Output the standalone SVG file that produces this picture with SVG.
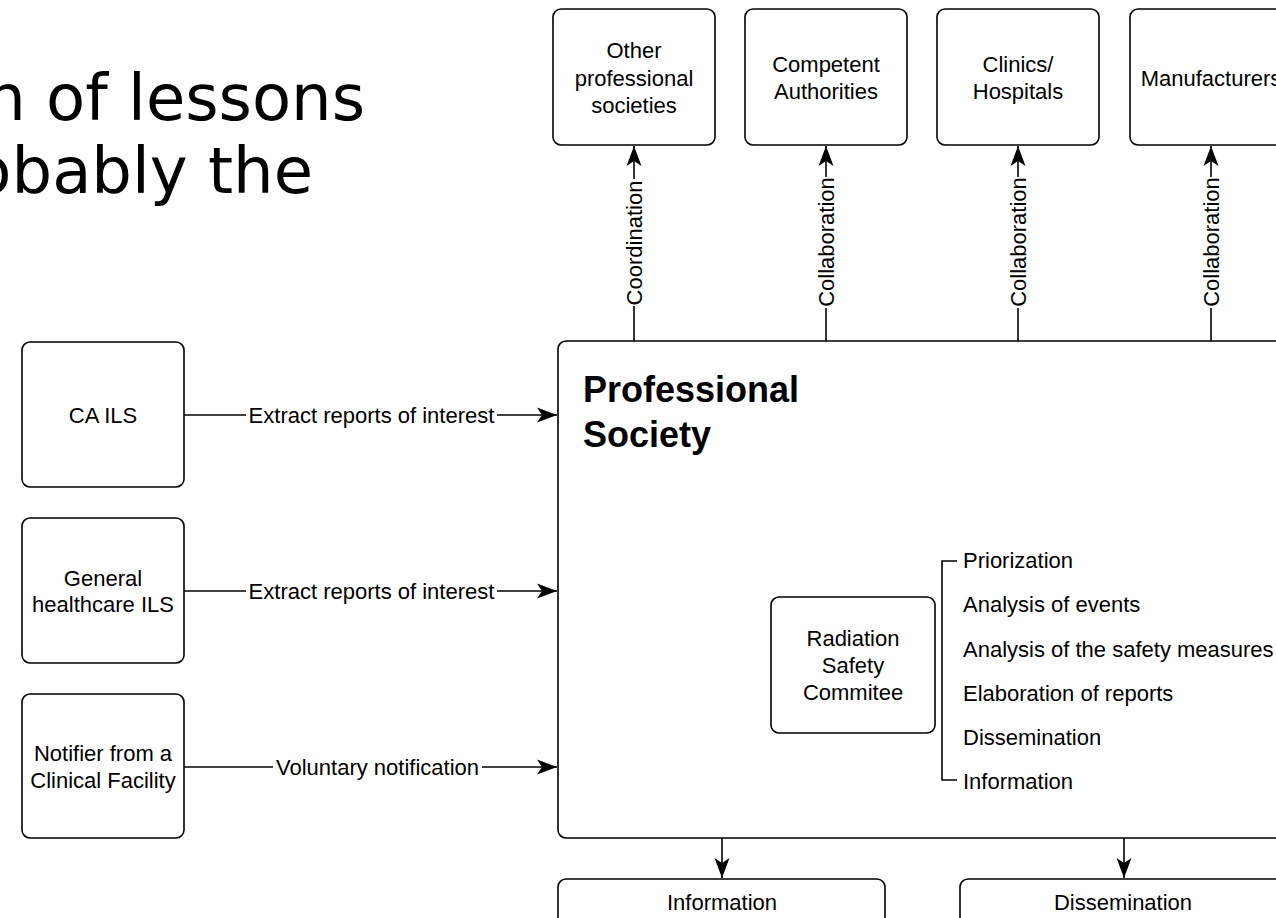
<svg xmlns="http://www.w3.org/2000/svg" width="1276" height="918" viewBox="0 0 1276 918">
  <style>
    .box { fill: #ffffff; stroke: #000000; stroke-width: 1.6; }
    .lbl { font-family: "Liberation Sans", Arial, sans-serif; font-size: 22px; fill: #000000; text-anchor: middle; dominant-baseline: central; }
    .item { font-family: "Liberation Sans", Arial, sans-serif; font-size: 22px; fill: #000000; dominant-baseline: central; }
    .edge { fill: none; stroke: #000000; stroke-width: 1.6; }
    .title { font-family: "DejaVu Sans", Verdana, sans-serif; font-size: 64px; fill: #000000; text-anchor: end; }
    .head { font-family: "Liberation Sans", Arial, sans-serif; font-size: 36px; font-weight: bold; fill: #000000; }
  </style>
  <defs>
    <!-- notched arrowhead, drawn in user space so every connector shares one size -->
    <marker id="arrow" markerUnits="userSpaceOnUse" markerWidth="22" markerHeight="18" viewBox="0 0 22 18" refX="21" refY="9" orient="auto">
      <path d="M1,1.5 L21,9 L1,16.5 L6,9 Z" fill="#000000"/>
    </marker>
  </defs>
  <rect width="1276" height="918" fill="#ffffff"/>

  <!-- slide heading fragment -->
  <g id="slide-title">
    <text class="title" x="365" y="120">n of lessons</text>
    <text class="title" x="313" y="193">obably the</text>
  </g>

  <!-- partner organisations along the top -->
  <g id="node-other-societies">
    <rect class="box" x="553" y="9" width="162" height="136" rx="8"/>
    <text class="lbl" x="634" y="50">Other</text>
    <text class="lbl" x="634" y="78">professional</text>
    <text class="lbl" x="634" y="105">societies</text>
  </g>
  <g id="node-competent-authorities">
    <rect class="box" x="745" y="9" width="162" height="136" rx="8"/>
    <text class="lbl" x="826" y="64">Competent</text>
    <text class="lbl" x="826" y="91">Authorities</text>
  </g>
  <g id="node-clinics">
    <rect class="box" x="937" y="9" width="162" height="136" rx="8"/>
    <text class="lbl" x="1018" y="64">Clinics/</text>
    <text class="lbl" x="1018" y="91">Hospitals</text>
  </g>
  <g id="node-manufacturers">
    <rect class="box" x="1130" y="9" width="162" height="136" rx="8"/>
    <text class="lbl" x="1211" y="78">Manufacturers</text>
  </g>

  <!-- reporting sources on the left -->
  <g id="node-ca-ils">
    <rect class="box" x="22" y="342" width="162" height="145" rx="8"/>
    <text class="lbl" x="103" y="415">CA ILS</text>
  </g>
  <g id="node-general-ils">
    <rect class="box" x="22" y="518" width="162" height="145" rx="8"/>
    <text class="lbl" x="103" y="578">General</text>
    <text class="lbl" x="103" y="604">healthcare ILS</text>
  </g>
  <g id="node-notifier">
    <rect class="box" x="22" y="694" width="162" height="144" rx="8"/>
    <text class="lbl" x="103" y="753">Notifier from a</text>
    <text class="lbl" x="103" y="780">Clinical Facility</text>
  </g>

  <!-- central container -->
  <g id="node-professional-society">
    <rect class="box" x="558" y="341" width="740" height="497" rx="8"/>
    <text class="head" x="583" y="402">Professional</text>
    <text class="head" x="583" y="447">Society</text>
  </g>

  <g id="node-radiation-committee">
    <rect class="box" x="771" y="597" width="164" height="136" rx="8"/>
    <text class="lbl" x="853" y="638">Radiation</text>
    <text class="lbl" x="853" y="665">Safety</text>
    <text class="lbl" x="853" y="692">Commitee</text>
  </g>

  <g id="node-committee-tasks">
    <path class="edge" d="M957,561 H942 V780 H957"/>
    <text class="item" x="963" y="560">Priorization</text>
    <text class="item" x="963" y="604">Analysis of events</text>
    <text class="item" x="963" y="649">Analysis of the safety measures</text>
    <text class="item" x="963" y="693">Elaboration of reports</text>
    <text class="item" x="963" y="737">Dissemination</text>
    <text class="item" x="963" y="781">Information</text>
  </g>

  <!-- outputs along the bottom -->
  <g id="node-information">
    <rect class="box" x="558" y="879" width="327" height="80" rx="8"/>
    <text class="lbl" x="722" y="902">Information</text>
  </g>
  <g id="node-dissemination">
    <rect class="box" x="960" y="879" width="327" height="80" rx="8"/>
    <text class="lbl" x="1123" y="902">Dissemination</text>
  </g>

  <!-- connectors -->
  <g id="connectors">
    <!-- inbound reports -->
    <path class="edge" d="M184,415 H246"/>
    <path class="edge" d="M497,415 H557" marker-end="url(#arrow)"/>
    <text class="lbl" x="371.5" y="415">Extract reports of interest</text>

    <path class="edge" d="M184,591 H246"/>
    <path class="edge" d="M497,591 H557" marker-end="url(#arrow)"/>
    <text class="lbl" x="371.5" y="591">Extract reports of interest</text>

    <path class="edge" d="M184,767 H273"/>
    <path class="edge" d="M482,767 H557" marker-end="url(#arrow)"/>
    <text class="lbl" x="377.5" y="767">Voluntary notification</text>

    <!-- outbound links to partners -->
    <path class="edge" d="M634,341 V306"/>
    <path class="edge" d="M634,179 V146" marker-end="url(#arrow)"/>
    <text class="lbl" transform="translate(634,243) rotate(-90)">Coordination</text>

    <path class="edge" d="M826,341 V308"/>
    <path class="edge" d="M826,177 V146" marker-end="url(#arrow)"/>
    <text class="lbl" transform="translate(826,242) rotate(-90)">Collaboration</text>

    <path class="edge" d="M1018,341 V308"/>
    <path class="edge" d="M1018,177 V146" marker-end="url(#arrow)"/>
    <text class="lbl" transform="translate(1018,242) rotate(-90)">Collaboration</text>

    <path class="edge" d="M1211,341 V308"/>
    <path class="edge" d="M1211,177 V146" marker-end="url(#arrow)"/>
    <text class="lbl" transform="translate(1211,242) rotate(-90)">Collaboration</text>

    <!-- outputs -->
    <path class="edge" d="M722,838 V878" marker-end="url(#arrow)"/>
    <path class="edge" d="M1124,838 V878" marker-end="url(#arrow)"/>
  </g>
</svg>
